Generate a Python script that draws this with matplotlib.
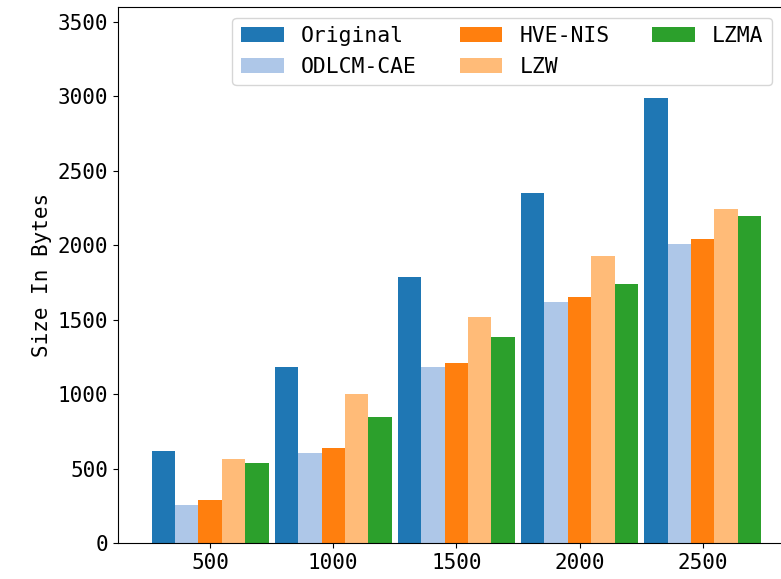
import numpy as np
import matplotlib.pyplot as plt

plt.rcParams['font.family'] = ['DejaVu Sans Mono']

sizes = [500, 1000, 1500, 2000, 2500]
series = ["Original", "ODLCM-CAE", "HVE-NIS", "LZW", "LZMA"]
original = [620, 1180, 1790, 2350, 2990]
odlcm_cae = [255, 605, 1180, 1620, 2010]
hve_nis = [290, 640, 1210, 1655, 2045]
lzw = [565, 1000, 1515, 1925, 2245]
lzma = [540, 850, 1385, 1740, 2195]
colors = ["#1f77b4", "#aec7e8", "#ff7f0e", "#ffbb78", "#2ca02c"]

fig = plt.figure(figsize=(7.81, 5.79), dpi=100)
# right edge of the axes sits just outside the picture, as in the reference crop
ax = fig.add_axes([0.151, 0.062, 0.8515, 0.926])

x = np.array(sizes, dtype=float)
width = 95
for i, (name, vals) in enumerate(zip(series, [original, odlcm_cae, hve_nis, lzw, lzma])):
    ax.bar(x + (i - 2) * width, vals, width=width, color=colors[i], label=name)

ax.set_xticks(sizes)
ax.set_yticks(np.arange(0, 3501, 500))
ax.set_xlim(126, 2826)
ax.set_ylim(0, 3600)
ax.tick_params(labelsize=15)
ax.set_ylabel("Size In Bytes", fontsize=15)
ax.legend(ncol=3, loc="upper right", fontsize=15.4)

plt.savefig("out.png", dpi=100)
